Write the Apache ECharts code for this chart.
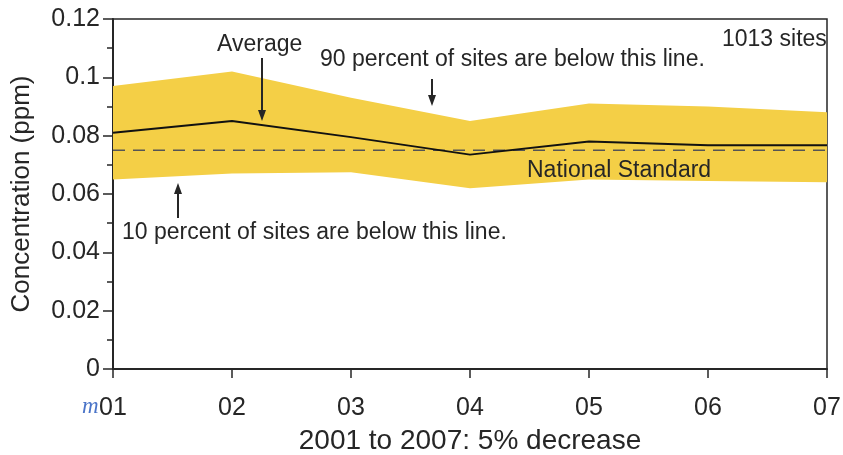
<!DOCTYPE html>
<html>
<head>
<meta charset="utf-8">
<script src="https://cdn.jsdelivr.net/npm/echarts/dist/echarts.min.js"></script>
<style>
  html, body { margin: 0; padding: 0; background: #fff; }
  #chart { width: 843px; height: 455px; }
</style>
</head>
<body>
<div id="chart"></div>
<script>
// Ozone concentration, 2001-2007
const years = ['01', '02', '03', '04', '05', '06', '07'];
const pct10 = [0.065, 0.067, 0.0675, 0.062, 0.065, 0.0645, 0.064];   // 10th percentile of sites
const pct90 = [0.097, 0.102, 0.093, 0.085, 0.091, 0.090, 0.088];     // 90th percentile of sites
const average = [0.081, 0.085, 0.0795, 0.0735, 0.078, 0.0767, 0.0767];
const nationalStandard = 0.075;

const FONT = '"Liberation Sans", Arial, Helvetica, sans-serif';
const INK = '#262626';
const GOLD = '#F4CF46';

const bandWidth = pct90.map((v, i) => +(v - pct10[i]).toFixed(4));
const standardLine = years.map(() => nationalStandard);

function arrow(x, yFrom, yTo) {
  const dir = yTo > yFrom ? 1 : -1;
  const headLen = 11, headHalf = 4;
  return [
    { type: 'line', z: 50,
      shape: { x1: x, y1: yFrom, x2: x, y2: yTo - dir * headLen },
      style: { stroke: INK, lineWidth: 2 } },
    { type: 'polygon', z: 50,
      shape: { points: [[x - headHalf, yTo - dir * headLen], [x + headHalf, yTo - dir * headLen], [x, yTo]] },
      style: { fill: INK } }
  ];
}

function note(text, left, top, size) {
  return { type: 'text', z: 50, left: left, top: top,
    style: { text: text, fill: INK, font: size + 'px ' + FONT } };
}

const chart = echarts.init(document.getElementById('chart'), null, { renderer: 'canvas' });

chart.setOption({
  animation: false,
  backgroundColor: '#fff',
  grid: {
    left: 113, right: 16, top: 19, bottom: 86,
    outerBoundsMode: 'none',
    containLabel: false,
    show: true, borderColor: INK, borderWidth: 1.5, backgroundColor: 'transparent'
  },
  xAxis: {
    type: 'category',
    data: years,
    boundaryGap: false,
    name: '2001 to 2007: 5% decrease',
    nameLocation: 'middle',
    nameGap: 58,
    nameTextStyle: { fontFamily: FONT, fontSize: 28, color: INK },
    axisLine: { lineStyle: { color: INK, width: 2 } },
    axisTick: { show: true, inside: false, length: 9, lineStyle: { color: INK, width: 1.5 } },
    axisLabel: { fontFamily: FONT, fontSize: 25, color: INK, margin: 27, showMinLabel: true, showMaxLabel: true },
    splitLine: { show: false }
  },
  yAxis: {
    type: 'value',
    min: 0, max: 0.12, interval: 0.02,
    name: 'Concentration (ppm)',
    nameLocation: 'middle',
    nameRotate: 90,
    nameGap: 78,
    nameTextStyle: { fontFamily: FONT, fontSize: 26, color: INK },
    axisLine: { show: true, lineStyle: { color: INK, width: 2 } },
    axisTick: { show: true, inside: false, length: 10, lineStyle: { color: INK, width: 1.5 } },
    minorTick: { show: true, splitNumber: 2, length: 6, lineStyle: { color: INK, width: 1.5 } },
    axisLabel: { fontFamily: FONT, fontSize: 25, color: INK, margin: 13 },
    splitLine: { show: false }
  },
  series: [
    {
      name: '10th percentile',
      type: 'line',
      data: pct10,
      stack: 'band',
      symbol: 'none',
      lineStyle: { width: 0, opacity: 0 },
      silent: true,
      z: 1
    },
    {
      name: '10th-90th percentile',
      type: 'line',
      data: bandWidth,
      stack: 'band',
      symbol: 'none',
      lineStyle: { width: 0, opacity: 0 },
      areaStyle: { color: GOLD, opacity: 1 },
      silent: true,
      z: 1
    },
    {
      name: 'National Standard',
      type: 'line',
      data: standardLine,
      symbol: 'none',
      silent: true,
      lineStyle: { color: '#555', width: 1.5, type: [12, 8] },
      z: 4
    },
    {
      name: 'Average',
      type: 'line',
      data: average,
      symbol: 'none',
      lineStyle: { color: '#111', width: 2 },
      z: 5
    }
  ],
  graphic: [
    note('Average', 217, 33, 23),
    note('90 percent of sites are below this line.', 320, 48, 23),
    note('1013 sites', 722, 28, 23),
    note('National Standard', 527, 159, 23),
    note('10 percent of sites are below this line.', 122, 221, 23),
    ...arrow(262, 58, 121),
    ...arrow(432, 79, 106),
    ...arrow(178, 218, 183),
    { type: 'text', left: 82, top: 395,
      style: { text: 'm', fill: '#4a74c8', font: 'italic 23px "Liberation Serif", "DejaVu Serif", serif' } }
  ]
});
</script>
</body>
</html>
